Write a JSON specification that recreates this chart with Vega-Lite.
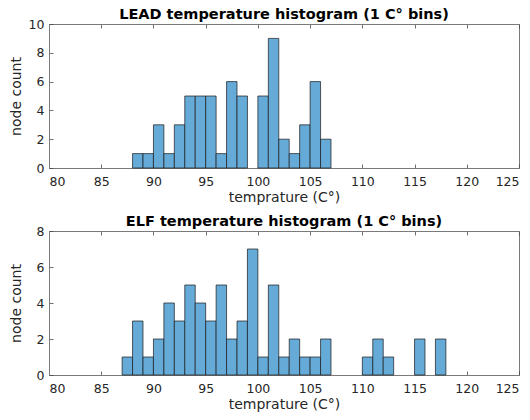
{
  "$schema": "https://vega.github.io/schema/vega-lite/v6.json",
  "background": "white",
  "padding": {"left": 8, "top": 6, "right": 11, "bottom": 4},
  "spacing": 8,
  "config": {
    "font": "DejaVu Sans",
    "view": {"stroke": "#7a7a7a", "strokeWidth": 1},
    "axis": {
      "domainColor": "#7a7a7a", "domainWidth": 1,
      "tickColor": "#4a4a4a", "tickSize": -4, "tickWidth": 0.8,
      "labelColor": "#262626", "labelFontSize": 12.5, "labelFont": "DejaVu Sans",
      "titleColor": "#262626", "titleFontSize": 14, "titleFontWeight": "normal", "titleFont": "DejaVu Sans",
      "grid": false
    },
    "title": {"fontSize": 14.5, "fontWeight": "bold", "color": "black", "offset": -4, "font": "DejaVu Sans"}
  },
  "datasets": {
    "hist": [
      {"panel": "LEAD", "lo": 88, "hi": 89, "count": 1},
      {"panel": "LEAD", "lo": 89, "hi": 90, "count": 1},
      {"panel": "LEAD", "lo": 90, "hi": 91, "count": 3},
      {"panel": "LEAD", "lo": 91, "hi": 92, "count": 1},
      {"panel": "LEAD", "lo": 92, "hi": 93, "count": 3},
      {"panel": "LEAD", "lo": 93, "hi": 94, "count": 5},
      {"panel": "LEAD", "lo": 94, "hi": 95, "count": 5},
      {"panel": "LEAD", "lo": 95, "hi": 96, "count": 5},
      {"panel": "LEAD", "lo": 96, "hi": 97, "count": 1},
      {"panel": "LEAD", "lo": 97, "hi": 98, "count": 6},
      {"panel": "LEAD", "lo": 98, "hi": 99, "count": 5},
      {"panel": "LEAD", "lo": 100, "hi": 101, "count": 5},
      {"panel": "LEAD", "lo": 101, "hi": 102, "count": 9},
      {"panel": "LEAD", "lo": 102, "hi": 103, "count": 2},
      {"panel": "LEAD", "lo": 103, "hi": 104, "count": 1},
      {"panel": "LEAD", "lo": 104, "hi": 105, "count": 3},
      {"panel": "LEAD", "lo": 105, "hi": 106, "count": 6},
      {"panel": "LEAD", "lo": 106, "hi": 107, "count": 2},
      {"panel": "ELF", "lo": 87, "hi": 88, "count": 1},
      {"panel": "ELF", "lo": 88, "hi": 89, "count": 3},
      {"panel": "ELF", "lo": 89, "hi": 90, "count": 1},
      {"panel": "ELF", "lo": 90, "hi": 91, "count": 2},
      {"panel": "ELF", "lo": 91, "hi": 92, "count": 4},
      {"panel": "ELF", "lo": 92, "hi": 93, "count": 3},
      {"panel": "ELF", "lo": 93, "hi": 94, "count": 5},
      {"panel": "ELF", "lo": 94, "hi": 95, "count": 4},
      {"panel": "ELF", "lo": 95, "hi": 96, "count": 3},
      {"panel": "ELF", "lo": 96, "hi": 97, "count": 5},
      {"panel": "ELF", "lo": 97, "hi": 98, "count": 2},
      {"panel": "ELF", "lo": 98, "hi": 99, "count": 3},
      {"panel": "ELF", "lo": 99, "hi": 100, "count": 7},
      {"panel": "ELF", "lo": 100, "hi": 101, "count": 1},
      {"panel": "ELF", "lo": 101, "hi": 102, "count": 5},
      {"panel": "ELF", "lo": 102, "hi": 103, "count": 1},
      {"panel": "ELF", "lo": 103, "hi": 104, "count": 2},
      {"panel": "ELF", "lo": 104, "hi": 105, "count": 1},
      {"panel": "ELF", "lo": 105, "hi": 106, "count": 1},
      {"panel": "ELF", "lo": 106, "hi": 107, "count": 2},
      {"panel": "ELF", "lo": 110, "hi": 111, "count": 1},
      {"panel": "ELF", "lo": 111, "hi": 112, "count": 2},
      {"panel": "ELF", "lo": 112, "hi": 113, "count": 1},
      {"panel": "ELF", "lo": 115, "hi": 116, "count": 2},
      {"panel": "ELF", "lo": 117, "hi": 118, "count": 2}
    ]
  },
  "vconcat": [
    {
      "title": "LEAD temperature histogram (1 C° bins)",
      "width": 470, "height": 144,
      "data": {"name": "hist"},
      "transform": [{"filter": "datum.panel == 'LEAD'"}],
      "resolve": {"scale": {"x": "independent"}, "axis": {"x": "independent"}},
      "layer": [
        {
          "mark": {"type": "rect", "fill": "#66AAD7", "stroke": "#1a1a1a", "strokeWidth": 0.7},
          "encoding": {
            "x": {"field": "lo", "type": "quantitative", "scale": {"domain": [80, 125], "nice": false},
                  "axis": {"orient": "bottom", "title": "temprature (C°)", "values": [80,85,90,95,100,105,110,115,120,125], "labelPadding": 11, "titlePadding": 3}},
            "x2": {"field": "hi"},
            "y": {"field": "count", "type": "quantitative", "scale": {"domain": [0, 10], "nice": false},
                  "axis": {"orient": "left", "title": "node count", "values": [0,2,4,6,8,10], "labelPadding": 9, "titlePadding": 5}},
            "y2": {"datum": 0}
          }
        },
        {
          "mark": {"type": "rect", "opacity": 0},
          "encoding": {
            "x": {"field": "lo", "type": "quantitative", "scale": {"domain": [80, 125], "nice": false},
                  "axis": {"orient": "top", "title": null, "labels": false, "labelPadding": 0, "values": [80,85,90,95,100,105,110,115,120,125]}},
            "x2": {"field": "hi"},
            "y": {"field": "count", "type": "quantitative", "scale": {"domain": [0, 10], "nice": false},
                  "axis": {"orient": "left", "title": "node count", "values": [0,2,4,6,8,10], "labelPadding": 9, "titlePadding": 5}},
            "y2": {"datum": 0}
          }
        }
      ]
    },
    {
      "title": "ELF temperature histogram (1 C° bins)",
      "width": 470, "height": 144,
      "data": {"name": "hist"},
      "transform": [{"filter": "datum.panel == 'ELF'"}],
      "resolve": {"scale": {"x": "independent"}, "axis": {"x": "independent"}},
      "layer": [
        {
          "mark": {"type": "rect", "fill": "#66AAD7", "stroke": "#1a1a1a", "strokeWidth": 0.7},
          "encoding": {
            "x": {"field": "lo", "type": "quantitative", "scale": {"domain": [80, 125], "nice": false},
                  "axis": {"orient": "bottom", "title": "temprature (C°)", "values": [80,85,90,95,100,105,110,115,120,125], "labelPadding": 11, "titlePadding": 3}},
            "x2": {"field": "hi"},
            "y": {"field": "count", "type": "quantitative", "scale": {"domain": [0, 8], "nice": false},
                  "axis": {"orient": "left", "title": "node count", "values": [0,2,4,6,8], "labelPadding": 9, "titlePadding": 13}},
            "y2": {"datum": 0}
          }
        },
        {
          "mark": {"type": "rect", "opacity": 0},
          "encoding": {
            "x": {"field": "lo", "type": "quantitative", "scale": {"domain": [80, 125], "nice": false},
                  "axis": {"orient": "top", "title": null, "labels": false, "labelPadding": 0, "values": [80,85,90,95,100,105,110,115,120,125]}},
            "x2": {"field": "hi"},
            "y": {"field": "count", "type": "quantitative", "scale": {"domain": [0, 8], "nice": false},
                  "axis": {"orient": "left", "title": "node count", "values": [0,2,4,6,8], "labelPadding": 9, "titlePadding": 13}},
            "y2": {"datum": 0}
          }
        }
      ]
    }
  ]
}
